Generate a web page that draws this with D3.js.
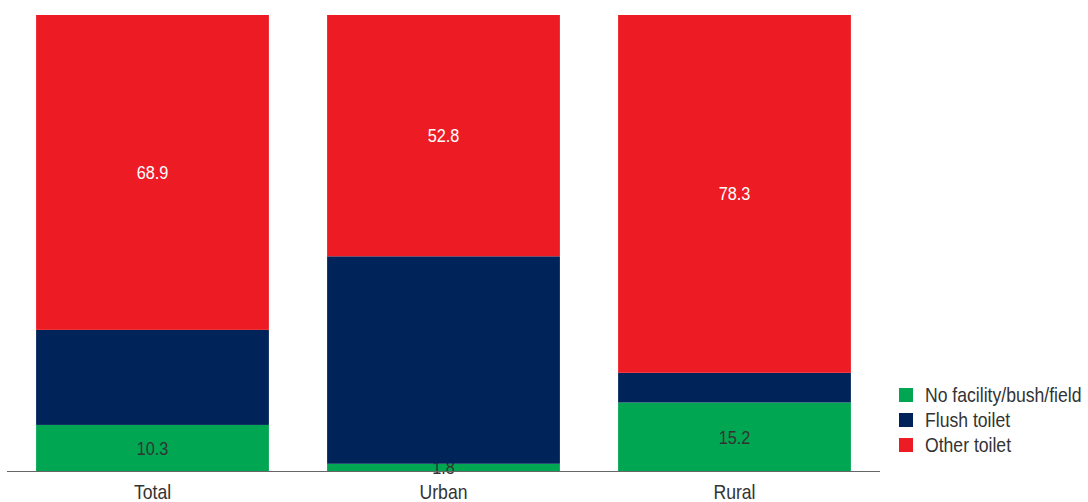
<!DOCTYPE html>
<html>
<head>
<meta charset="utf-8">
<script src="https://cdn.jsdelivr.net/npm/d3@7"></script>
<style>
  html, body { margin: 0; padding: 0; background: #fff; }
  svg text { font-family: "Liberation Sans", Arial, sans-serif; }
</style>
</head>
<body>
<svg id="chart" width="1088" height="502"></svg>
<script>
// Share of households by type of toilet facility (%)
const categories = ["Total", "Urban", "Rural"];
const noFacility = [10.3, 1.8, 15.2];
const flushToilet = [20.8, 45.4, 6.5];
const otherToilet = [68.9, 52.8, 78.3];

const seriesNames = ["No facility/bush/field", "Flush toilet", "Other toilet"];
const seriesColors = ["#00a651", "#00245a", "#ed1c24"];
const labelColors = ["#333333", null, "#ffffff"];

// horizontal squeeze giving a condensed look to the sans face
const condense = 0.88;

const rows = categories.map((c, i) => ({
  category: c,
  s0: noFacility[i],
  s1: flushToilet[i],
  s2: otherToilet[i]
}));

const svg = d3.select("#chart");
const plot = { left: 7, right: 880, top: 15, bottom: 472 };

const x = d3.scaleBand()
  .domain(categories)
  .range([plot.left, plot.right])
  .paddingInner(0.2)
  .paddingOuter(0.1);

const y = d3.scaleLinear()
  .domain([0, 100])
  .range([plot.bottom, plot.top]);

const stack = d3.stack().keys(["s0", "s1", "s2"]);
const layers = stack(rows);

const g = svg.append("g");

layers.forEach((layer, li) => {
  g.selectAll(null)
    .data(layer)
    .join("rect")
    .attr("x", d => x(d.data.category))
    .attr("width", x.bandwidth())
    .attr("y", d => y(d[1]))
    .attr("height", d => y(d[0]) - y(d[1]))
    .attr("fill", seriesColors[li]);

  if (labelColors[li]) {
    g.selectAll(null)
      .data(layer)
      .join("text")
      .attr("transform", d =>
        `translate(${x(d.data.category) + x.bandwidth() / 2},${(y(d[0]) + y(d[1])) / 2}) scale(${condense},1)`)
      .attr("dy", "0.35em")
      .attr("text-anchor", "middle")
      .attr("font-size", 18.5)
      .attr("fill", labelColors[li])
      .text(d => d3.format(".1f")(d[1] - d[0]));
  }
});

// Category axis
const xAxis = svg.append("g")
  .attr("transform", `translate(0,${plot.bottom - 0.5})`)
  .call(d3.axisBottom(x).tickSize(0).tickPadding(13));
xAxis.select(".domain").attr("stroke", "#666").attr("stroke-width", 1.2)
  .attr("d", `M${plot.left},0H${plot.right}`);
xAxis.selectAll(".tick text")
  .attr("font-size", 20)
  .attr("fill", "#333")
  .attr("transform", `scale(${condense},1)`);

// Legend
const legend = svg.append("g").attr("transform", "translate(899,388)");
seriesNames.forEach((name, i) => {
  const row = legend.append("g").attr("transform", `translate(0,${i * 25})`);
  row.append("rect").attr("width", 14).attr("height", 14).attr("fill", seriesColors[i]);
  row.append("text")
    .attr("transform", `translate(26,7) scale(${condense},1)`)
    .attr("dy", "0.35em")
    .attr("font-size", 20)
    .attr("fill", "#333")
    .text(name);
});
</script>
</body>
</html>
